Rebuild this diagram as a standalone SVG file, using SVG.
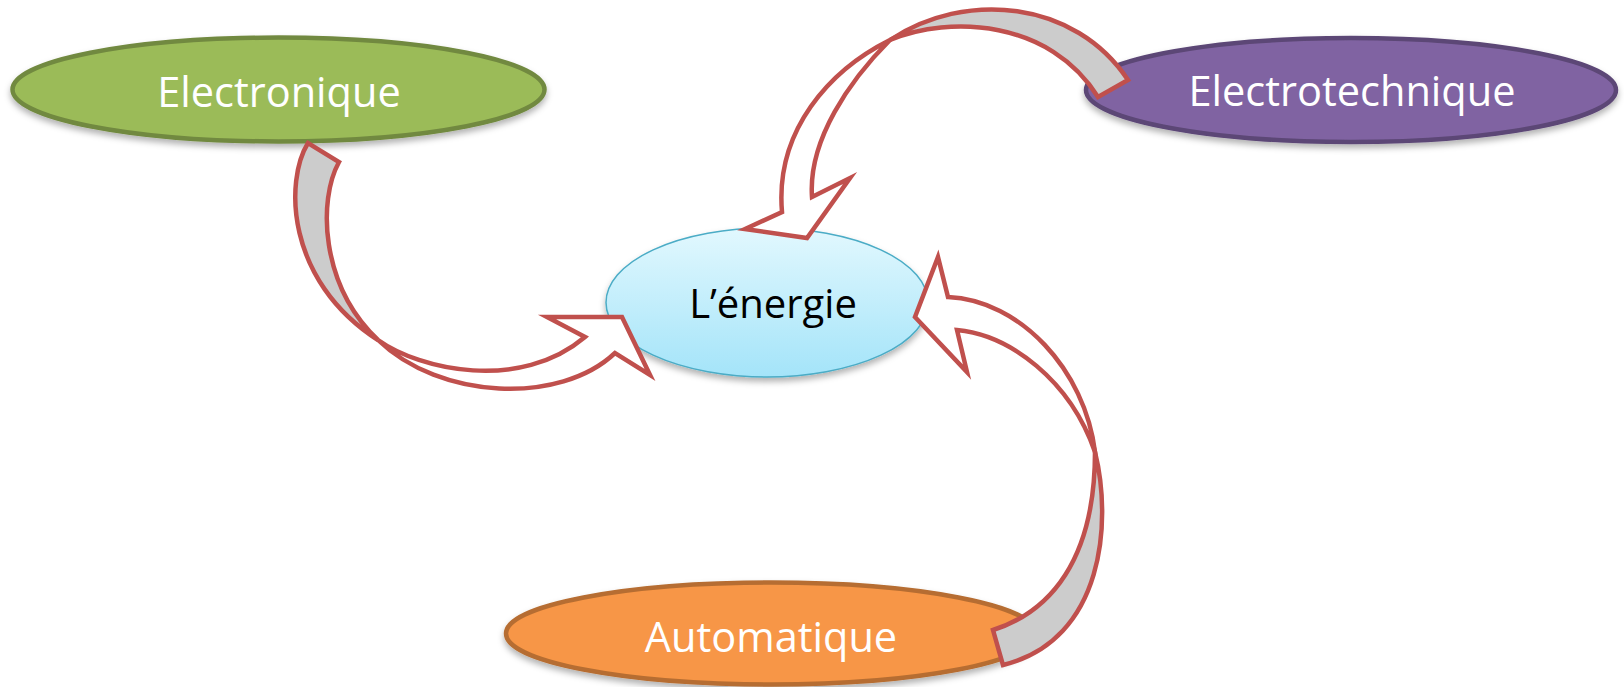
<svg xmlns="http://www.w3.org/2000/svg" width="1624" height="687" viewBox="0 0 1624 687">
<defs>
<linearGradient id="gBlue" x1="0" y1="0" x2="0" y2="1">
<stop offset="0" stop-color="#e2f8fe"/>
<stop offset="1" stop-color="#a4e4f9"/>
</linearGradient>
<filter id="sh" x="-10%" y="-20%" width="120%" height="150%">
<feDropShadow dx="0" dy="4" stdDeviation="3" flood-color="#000" flood-opacity="0.3"/>
</filter>
<style>
.lbl{font-family:"Open Sans","Liberation Sans",sans-serif;font-size:41.5px;fill:#ffffff;text-anchor:middle}
.lblc{font-family:"Open Sans","Liberation Sans",sans-serif;font-size:40px;fill:#000000;text-anchor:middle}
.arr{stroke:#c0504d;stroke-width:4.5;stroke-linejoin:miter;stroke-miterlimit:10}
.grey{fill:#cccccc}
.body{fill:#ffffff}
</style>
</defs>
<rect width="1624" height="687" fill="#ffffff"/>
<g id="node-electronique">
<ellipse cx="278.5" cy="89.5" rx="266" ry="52" fill="#9bbb59" stroke="#71893f" stroke-width="4.5" filter="url(#sh)"/>
<text class="lbl" x="279" y="107">Electronique</text>
</g>
<g id="node-electrotechnique">
<ellipse cx="1351" cy="90" rx="265" ry="52" fill="#8064a2" stroke="#5c4776" stroke-width="4.5" filter="url(#sh)"/>
<text class="lbl" x="1352" y="106">Electrotechnique</text>
</g>
<g id="node-automatique">
<ellipse cx="771" cy="633.5" rx="265" ry="51" fill="#f79646" stroke="#b66d31" stroke-width="4.5" filter="url(#sh)"/>
<text class="lbl" x="771" y="652">Automatique</text>
</g>
<g id="node-energie">
<ellipse cx="767" cy="302.5" rx="161" ry="74.5" fill="url(#gBlue)" stroke="#4bacc6" stroke-width="1.5" filter="url(#sh)"/>
<text class="lblc" x="773" y="318">L’énergie</text>
</g>
<g id="connectors">
<g id="arrow-electronique-energie">
<path class="arr grey" d="M308,143 C285,180 285,280 378,340 C320,285 318,200 339,162 Z"/>
<path class="arr body" d="M378,340 C420,370 520,392 585,337 L547,317 L622,317 L650,375 L615,353 C560,405 440,400 378,340 Z"/>
</g>
<g id="arrow-electrotechnique-energie">
<path class="arr grey" d="M1128,80 C1075,0 965,-10 890,40 C950,15 1050,20 1098,97 Z"/>
<path class="arr body" d="M890,40 C830,70 775,130 782,212 L745,229 L807,238 L850,178 L812,197 C808,140 850,80 890,40 Z"/>
</g>
<g id="arrow-automatique-energie">
<path class="arr grey" d="M993,630 C1050,612 1095,560 1095,452 C1112,520 1105,640 1003,665 Z"/>
<path class="arr body" d="M1095,452 C1085,370 1020,300 948,297 L938,257 L915,317 L967,372 L957,330 C1010,335 1070,380 1095,452 Z"/>
</g>
</g>
</svg>
